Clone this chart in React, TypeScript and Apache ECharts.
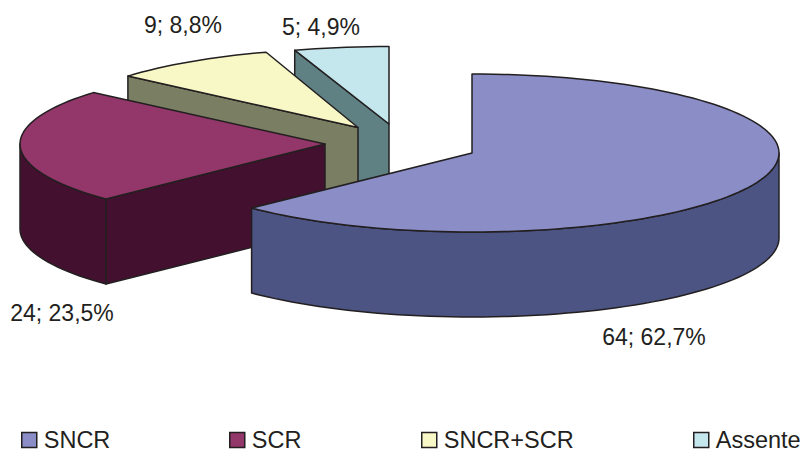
import React, { useEffect, useRef } from "react";
import * as echarts from "echarts";

const categories = ["SNCR", "SCR", "SNCR+SCR", "Assente"];
const values = [64, 24, 9, 5];
const topColors = ["#8A8DC6", "#93366A", "#F8F8C6", "#C4E7EE"];
const sideColors = ["#4C5484", "#44102F", "#7A7E62", "#5F8184"];
const apexX = [472, 325, 358, 389];
const apexY = [153, 144, 127.5, 124];
const radiusX = [307, 305, 303, 311];
const radiusY = [79, 79, 79, 77.5];
const labelX = [654, 62, 183, 321];
const labelY = [337, 313, 25, 27];
const legendLeft = [21, 229, 421, 693];

const DEPTH = 85;
const STROKE = "#231F20";
const total = values.reduce((a, b) => a + b, 0);

function arc(i: number, from: number, to: number, dy: number) {
  const pts: number[][] = [];
  const n = Math.max(2, Math.ceil(Math.abs(to - from) / 2));
  for (let k = 0; k <= n; k++) {
    const a = ((from + ((to - from) * k) / n) * Math.PI) / 180;
    pts.push([apexX[i] + radiusX[i] * Math.sin(a), apexY[i] - radiusY[i] * Math.cos(a) + dy]);
  }
  return pts;
}

function poly(points: number[][], fill: string) {
  return {
    type: "polygon",
    shape: { points },
    style: { fill, stroke: STROKE, lineWidth: 1.5, lineJoin: "round" },
  };
}

function renderSlice(i: number, api: any) {
  const value = api.value(0) as number;
  let before = 0;
  for (let k = 0; k < i; k++) before += values[k];
  const start = (before / total) * 360;
  const end = ((before + value) / total) * 360;
  const side = sideColors[i];
  const apex = [apexX[i], apexY[i]];
  const apexLow = [apexX[i], apexY[i] + DEPTH];
  const children: any[] = [];

  const wallFrom = Math.max(start, 90);
  const wallTo = Math.min(end, 270);
  if (wallTo > wallFrom) {
    const top = arc(i, wallFrom, wallTo, 0);
    const low = arc(i, wallFrom, wallTo, DEPTH).reverse();
    children.push(poly([...top, ...low], side));
  }
  if (Math.sin((start * Math.PI) / 180) < -1e-6) {
    const p = arc(i, start, start + 1, 0)[0];
    children.push(poly([p, apex, apexLow, [p[0], p[1] + DEPTH]], side));
  }
  children.push(poly([apex, ...arc(i, start, end, 0)], topColors[i]));
  const pct = ((value / total) * 100).toFixed(1).replace(".", ",");
  children.push({
    type: "text",
    x: labelX[i],
    y: labelY[i],
    style: {
      text: `${value}; ${pct}%`,
      fill: STROKE,
      font: '23px "Liberation Sans", Arial, sans-serif',
      align: "center",
      verticalAlign: "middle",
    },
  });
  return { type: "group", children };
}

export default function App() {
  const ref = useRef<HTMLDivElement>(null);
  useEffect(() => {
    const chart = echarts.init(ref.current!, null, { renderer: "svg", width: 801, height: 450 });
    chart.setOption({
      animation: false,
      backgroundColor: "#FFFFFF",
      legend: categories.map((name, i) => ({
        data: [name],
        left: legendLeft[i],
        top: 428,
        padding: 0,
        icon: "rect",
        itemWidth: 15,
        itemHeight: 15,
        selectedMode: false,
        itemStyle: { borderColor: STROKE, borderWidth: 1.5 },
        textStyle: {
          color: STROKE,
          fontSize: 23.5,
          fontFamily: '"Liberation Sans", Arial, sans-serif',
          padding: [0, 0, 4, 2],
        },
      })),
      series: categories.map((name, i) => ({
        type: "custom",
        name,
        coordinateSystem: "none",
        z: 10 - i,
        itemStyle: { color: topColors[i] },
        data: [[values[i]]],
        renderItem: (_p: any, api: any) => renderSlice(i, api),
      })),
    });
    return () => chart.dispose();
  }, []);
  return (
    <div
      ref={ref}
      style={{ position: "fixed", left: 0, top: 0, width: 801, height: 450, background: "#fff" }}
    />
  );
}
